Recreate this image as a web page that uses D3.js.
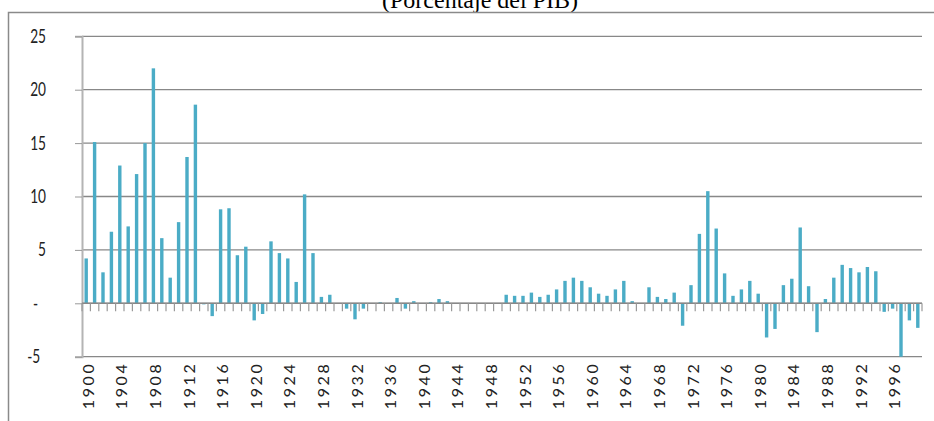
<!DOCTYPE html>
<html>
<head>
<meta charset="utf-8">
<script src="https://cdnjs.cloudflare.com/ajax/libs/d3/7.8.5/d3.min.js"></script>
<style>
  body { margin: 0; background: #fff; }
  svg { display: block; }
</style>
</head>
<body>
<script>
// categories: one bar per year, 1900 - 1999
var firstYear = 1900;
var years = d3.range(firstYear, 2000).map(String);

// values (% of GDP)
var values = [
   4.2, 15.1,  2.9,  6.7, 12.9,  7.2, 12.1, 15.0, 22.0,  6.1,   // 1900s
   2.4,  7.6, 13.7, 18.6, -0.1, -1.2,  8.8,  8.9,  4.5,  5.3,   // 1910s
  -1.6, -1.0,  5.8,  4.7,  4.2,  2.0, 10.2,  4.7,  0.6,  0.8,   // 1920s
   0.0, -0.5, -1.5, -0.5,  0.0,  0.1,  0.0,  0.5, -0.5,  0.2,   // 1930s
   0.0,  0.1,  0.4,  0.2,  0.0,  0.0,  0.0,  0.0,  0.0,  0.0,   // 1940s
   0.8,  0.7,  0.7,  1.0,  0.6,  0.8,  1.3,  2.1,  2.4,  2.1,   // 1950s
   1.5,  0.9,  0.7,  1.3,  2.1,  0.2,  0.0,  1.5,  0.6,  0.4,   // 1960s
   1.0, -2.1,  1.7,  6.5, 10.5,  7.0,  2.8,  0.7,  1.3,  2.1,   // 1970s
   0.9, -3.2, -2.4,  1.7,  2.3,  7.1,  1.6, -2.7,  0.4,  2.4,   // 1980s
   3.6,  3.3,  2.9,  3.4,  3.0, -0.8, -0.5, -5.0, -1.6, -2.3    // 1990s
];

// axis labels
var xTickLabels = ["1900", "1904", "1908", "1912", "1916", "1920", "1924", "1928",
                   "1932", "1936", "1940", "1944", "1948", "1952", "1956", "1960",
                   "1964", "1968", "1972", "1976", "1980", "1984", "1988", "1992", "1996"];
var yTicks = [-5, 0, 5, 10, 15, 20, 25];
var yTickLabels = ["-5", "-", "5", "10", "15", "20", "25"];
var title = "(Porcentaje del PIB)";

var data = years.map(function(y, i) { return {year: y, value: values[i]}; });

// set the dimensions of the plot area
var W = 934, H = 421;
var plot = {left: 82, right: 922, top: 36.3, bottom: 356.7};

var svg = d3.select("body").append("svg")
    .attr("width", W)
    .attr("height", H);

// set the ranges
var x = d3.scaleBand()
    .domain(years)
    .range([plot.left, plot.right]);

var y = d3.scaleLinear()
    .domain([-5, 25])
    .range([plot.bottom, plot.top]);

var barWidth = 3.4;

// title (cut off by the top edge)
svg.append("text")
    .attr("x", 480)
    .attr("y", 8)
    .attr("text-anchor", "middle")
    .attr("font-family", "'Liberation Serif', 'Times New Roman', serif")
    .attr("font-size", 24)
    .attr("fill", "#000")
    .text(title);

// outer frame
svg.append("path")
    .attr("d", "M8.5," + H + "V12.5H" + W)
    .attr("fill", "none")
    .attr("stroke", "#8a8a8a")
    .attr("stroke-width", 1.5);

// horizontal gridlines
svg.append("g")
  .selectAll("line")
    .data(yTicks)
  .enter().append("line")
    .attr("x1", plot.left)
    .attr("x2", plot.right)
    .attr("y1", function(d) { return y(d); })
    .attr("y2", function(d) { return y(d); })
    .attr("stroke", "#888")
    .attr("stroke-width", 1.3);

// y axis
var yAxis = svg.append("g")
    .attr("transform", "translate(" + plot.left + ",0)")
    .call(d3.axisLeft(y)
        .tickValues(yTicks)
        .tickSize(7)
        .tickPadding(36)
        .tickFormat(function(d, i) { return yTickLabels[i]; }));

yAxis.select(".domain")
    .attr("stroke", "#b4b4b4")
    .attr("stroke-width", 2);
yAxis.selectAll(".tick line")
    .attr("stroke", "#999");
yAxis.selectAll(".tick text")
    .attr("font-family", "Lato, 'Open Sans', sans-serif")
    .attr("font-size", 19)
    .attr("fill", "#222")
    .attr("transform", "scale(0.72,1)")
    .attr("x", function(d) { return d < 0 ? -58 : d === 0 ? -61 : -50; });

// bars
svg.append("g")
  .selectAll("rect")
    .data(data)
  .enter().append("rect")
    .attr("x", function(d) { return x(d.year) + (x.bandwidth() - barWidth) / 2; })
    .attr("width", barWidth)
    .attr("y", function(d) { return y(Math.max(0, d.value)); })
    .attr("height", function(d) { return Math.abs(y(d.value) - y(0)); })
    .attr("fill", "#4bacc6");

// zero line with category tick marks
var zero = svg.append("g");
zero.append("line")
    .attr("x1", plot.left)
    .attr("x2", plot.right)
    .attr("y1", y(0))
    .attr("y2", y(0))
    .attr("stroke", "#888")
    .attr("stroke-width", 1.5);

zero.selectAll(".cat-tick")
    .data(years.concat([null]))
  .enter().append("line")
    .attr("class", "cat-tick")
    .attr("x1", function(d) { return d === null ? plot.right : x(d); })
    .attr("x2", function(d) { return d === null ? plot.right : x(d); })
    .attr("y1", y(0))
    .attr("y2", y(0) + 8)
    .attr("stroke", "#999")
    .attr("stroke-width", 1.2);

// x labels, rotated, sitting under the plot area
var xAxis = svg.append("g")
    .attr("transform", "translate(0," + (plot.bottom + 7) + ")")
    .call(d3.axisBottom(x)
        .tickValues(xTickLabels)
        .tickSize(0)
        .tickPadding(0));

xAxis.select(".domain").remove();
xAxis.selectAll(".tick text")
    .attr("font-family", "Lato, 'Open Sans', sans-serif")
    .attr("font-size", 16)
    .attr("letter-spacing", 2.6)
    .attr("fill", "#222")
    .attr("text-anchor", "end")
    .attr("transform", "rotate(-90)")
    .attr("x", 2)
    .attr("y", 2)
    .attr("dy", "0.35em");
</script>
</body>
</html>
